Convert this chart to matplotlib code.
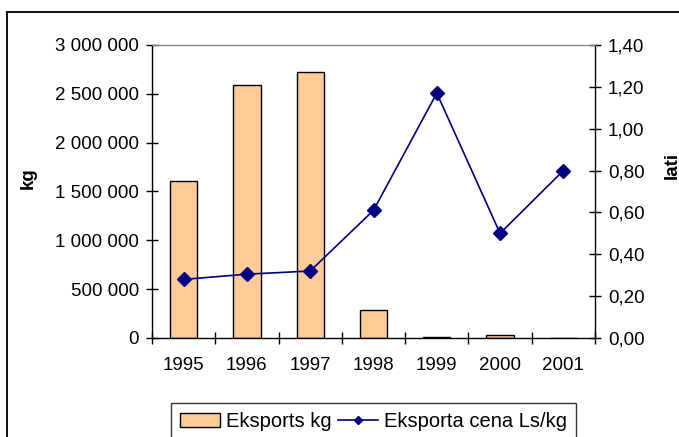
import matplotlib
matplotlib.use("Agg")
import matplotlib.pyplot as plt
from matplotlib.lines import Line2D
from matplotlib.ticker import FuncFormatter

plt.rcParams['font.family'] = ['Liberation Sans', 'DejaVu Sans']

years = ['1995', '1996', '1997', '1998', '1999', '2000', '2001']
export_kg = [1610000, 2590000, 2720000, 287000, 10000, 30000, 0]
price_ls_kg = [0.28, 0.305, 0.32, 0.61, 1.17, 0.50, 0.80]

FS = 13.5
W, H = 679, 437
fig = plt.figure(figsize=(W / 100, H / 100), dpi=100)

# outer chart frame (right and bottom edge fall outside the picture)
fig.add_artist(Line2D([7 / W, 7 / W], [0, 1 - 12 / H], color='black', lw=1.3))
fig.add_artist(Line2D([7 / W, 1], [1 - 12 / H, 1 - 12 / H], color='black', lw=1.3))

ax = fig.add_axes([152 / W, 1 - 338 / H, (595 - 152) / W, (338 - 45) / H])
x = list(range(len(years)))
bars = ax.bar(x, export_kg, width=0.43, color='#FFCC99', edgecolor='black', lw=1,
              label='Eksports kg', zorder=2)
ax.set_xlim(-0.5, len(years) - 0.5)
ax.set_ylim(0, 3000000)
ax.set_yticks(range(0, 3000001, 500000))
ax.yaxis.set_major_formatter(FuncFormatter(lambda v, p: f"{int(v):,}".replace(',', ' ')))
ax.set_xticks(x)
ax.set_xticklabels(years)
ax.set_xticks([i - 0.5 for i in range(len(years) + 1)], minor=True)
ax.tick_params(axis='x', which='major', length=0, labelsize=FS, pad=14)
ax.tick_params(axis='x', which='minor', direction='inout', length=8.5, width=1)
ax.tick_params(axis='y', direction='inout', length=8.5, width=1, labelsize=FS, pad=5)
for s in ['left', 'bottom']:
    ax.spines[s].set_linewidth(1)
ax.spines['top'].set_color('#808080')
ax.spines['right'].set_visible(False)

ax2 = ax.twinx()
line, = ax2.plot(x, price_ls_kg, color='#000080', lw=1.2, marker='D', markersize=7.5,
                 label='Eksporta cena Ls/kg', zorder=3)
ax2.set_ylim(0, 1.4)
ax2.set_yticks([i * 0.2 for i in range(8)])
ax2.yaxis.set_major_formatter(FuncFormatter(lambda v, p: f"{v:.2f}".replace('.', ',')))
ax2.tick_params(axis='y', direction='inout', length=8.5, width=1, labelsize=FS, pad=5)
ax2.spines['right'].set_linewidth(1)
ax2.spines['top'].set_color('#808080')
ax2.spines['left'].set_visible(False)
ax2.spines['bottom'].set_visible(False)

fig.text(28 / W, 1 - 178 / H, 'kg', rotation=90, fontsize=FS, fontweight='bold',
         ha='center', va='center')
fig.text(672 / W, 1 - 165 / H, 'lati', rotation=90, fontsize=FS, fontweight='bold',
         ha='center', va='center')

leg = fig.legend([bars, line], ['Eksports kg', 'Eksporta cena Ls/kg'], ncol=2,
                 loc='upper center', bbox_to_anchor=(373.5 / W, 1 - 403 / H),
                 fontsize=14.5, frameon=True, fancybox=False, handlelength=2.0,
                 handletextpad=0.3, columnspacing=0.3, borderpad=0.45,
                 borderaxespad=0, markerscale=0.55)
leg.get_frame().set_edgecolor('black')
leg.get_frame().set_linewidth(1)

fig.savefig('out.png', dpi=100)
